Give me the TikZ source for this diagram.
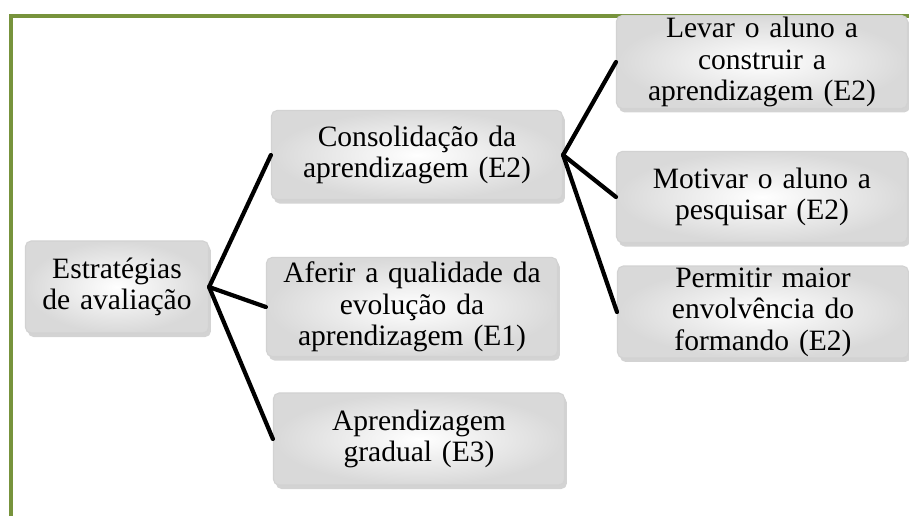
\documentclass[tikz,border=0pt]{standalone}
\usepackage{fontspec}
\setmainfont{Liberation Serif}
\usetikzlibrary{shadows}
\definecolor{verde}{RGB}{119,147,60}

\begin{document}
\begin{tikzpicture}[
    x=0.025cm, y=-0.025cm,
    caixa/.style={rectangle, rounded corners=4pt, draw=gray!35, line width=0.8pt,
        inner color=white, outer color=gray!30,
        drop shadow={shadow xshift=0.6mm, shadow yshift=-1mm, opacity=0.35},
        align=center, inner sep=1pt, font=\fontsize{21}{22.5}\selectfont},
    ramo/.style={caixa, minimum width=7.275cm, text width=7.2cm},
    conector/.style={line width=3pt, line cap=round}
]
    \useasboundingbox (0,0) rectangle (909,516);

    % moldura verde
    \draw[verde, line width=2.9pt] (11,516) -- (11,16) -- (909,16);

    % raiz
    \node[caixa, minimum width=4.575cm, minimum height=2.3cm, text width=4.5cm] (raiz) at (117,287)
        {Estratégias\\de avaliação};

    % primeiro nível
    \node[ramo, minimum height=2.225cm] (consol) at (417,155) {Consolidação da\\aprendizagem (E2)};
    \node[ramo, minimum height=2.475cm] (aferir) at (412,307) {Aferir a qualidade da\\evolução da\\aprendizagem (E1)};
    \node[ramo, minimum height=2.3cm] (gradual) at (419,439) {Aprendizagem\\gradual (E3)};

    % segundo nível
    \node[ramo, minimum width=7.25cm, minimum height=2.225cm] (levar) at (762,62) {Levar o aluno a\\construir a\\aprendizagem (E2)};
    \node[ramo, minimum width=7.25cm, minimum height=2.275cm] (motivar) at (762,197) {Motivar o aluno a\\pesquisar (E2)};
    \node[ramo, minimum width=7.25cm, minimum height=2.275cm] (permitir) at (763,312) {Permitir maior\\envolvência do\\formando (E2)};

    % ligações
    \draw[conector] (raiz.east) -- (consol.west);
    \draw[conector] (raiz.east) -- (aferir.west);
    \draw[conector] (raiz.east) -- (gradual.west);
    \draw[conector] (consol.east) -- (levar.west);
    \draw[conector] (consol.east) -- (motivar.west);
    \draw[conector] (consol.east) -- (permitir.west);
\end{tikzpicture}
\end{document}
